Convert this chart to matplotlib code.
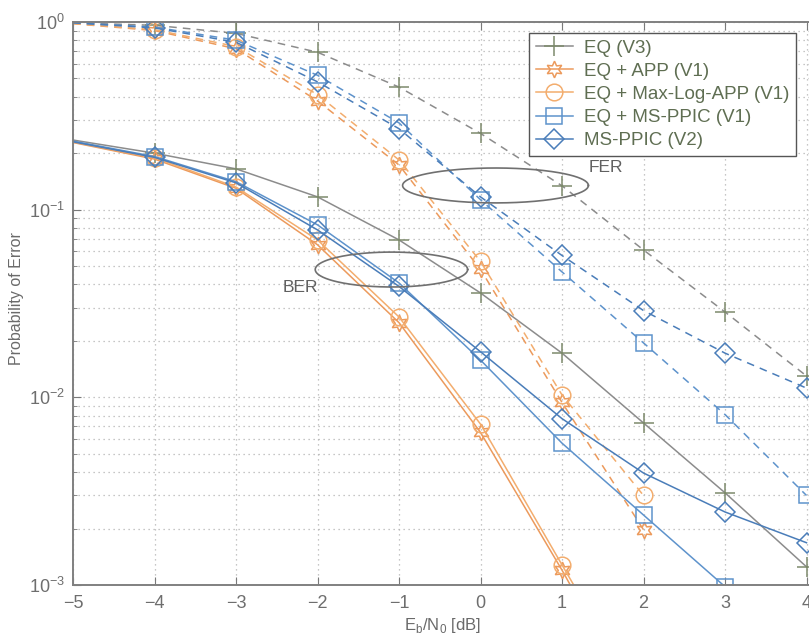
import numpy as np
import matplotlib
matplotlib.use("Agg")
from matplotlib import pyplot as plt
from matplotlib.ticker import LogLocator, NullFormatter

plt.rcParams['font.family'] = ['Liberation Sans', 'DejaVu Sans']

# Eb/N0 in dB
snr = [-5, -4, -3, -2, -1, 0, 1, 2, 3, 4]

# bit error rate (solid curves)
eq_v3_ber = [0.235, 0.200, 0.165, 0.117, 0.069, 0.036, 0.0172, 0.0073, 0.0031, 0.00125]
app_ber = [0.228, 0.186, 0.130, 0.065, 0.025, 0.0065, 0.00120, 0.00020]
maxlog_ber = [0.229, 0.189, 0.132, 0.069, 0.0268, 0.0072, 0.00128, 0.00023]
msppic_v1_ber = [0.232, 0.192, 0.141, 0.083, 0.0407, 0.0158, 0.0057, 0.00236, 0.00098, 0.0004]
msppic_v2_ber = [0.230, 0.190, 0.139, 0.078, 0.039, 0.0175, 0.0077, 0.00395, 0.00245, 0.00168]

# frame error rate (dashed curves)
eq_v3_fer = [0.99, 0.96, 0.87, 0.69, 0.45, 0.255, 0.134, 0.061, 0.0285, 0.013]
app_fer = [0.98, 0.90, 0.72, 0.38, 0.173, 0.048, 0.0094, 0.00197]
maxlog_fer = [0.98, 0.91, 0.74, 0.41, 0.184, 0.053, 0.0103, 0.0030]
msppic_v1_fer = [0.99, 0.94, 0.80, 0.52, 0.29, 0.113, 0.0466, 0.0195, 0.0081, 0.0030]
msppic_v2_fer = [0.99, 0.93, 0.78, 0.48, 0.27, 0.117, 0.057, 0.029, 0.0172, 0.0112]

labels = ['EQ (V3)', 'EQ + APP (V1)', 'EQ + Max-Log-APP (V1)',
          'EQ + MS-PPIC (V1)', 'MS-PPIC (V2)']
colors = ['#8c8c8c', '#ec9a5c', '#f3ad6e', '#5e93cc', '#4a7db9']
markers = ['+', (6, 1, 0), 'o', 's', 'D']
msizes = [15, 12, 12, 11, 10]

ber = [eq_v3_ber, app_ber, maxlog_ber, msppic_v1_ber, msppic_v2_ber]
fer = [eq_v3_fer, app_fer, maxlog_fer, msppic_v1_fer, msppic_v2_fer]

fig = plt.figure(figsize=(8.09, 6.43), dpi=100)
# axes runs to 5 dB, the right part falls outside the figure
ax = fig.add_axes([73 / 809, 1 - 585 / 643, 815 / 809, 563 / 643])

for i in range(5):
    mcol = '#7d8a6c' if i == 0 else colors[i]
    ax.plot(snr[:len(ber[i])], ber[i], color=colors[i], lw=1.1,
            marker=markers[i], ms=msizes[i], mfc='none', mec=mcol, mew=1.1,
            markevery=list(range(1, len(ber[i]))), label=labels[i])
    ax.plot(snr[:len(fer[i])], fer[i], color=colors[i], lw=1.1, ls=(0, (5, 4)),
            marker=markers[i], ms=msizes[i], mfc='none', mec=mcol, mew=1.1,
            markevery=list(range(1, len(fer[i]))))

# ellipses grouping the FER and BER curves
t = np.linspace(0, 2 * np.pi, 300)
for cx, cy, a, b in [(0.184, -0.871, 1.14, 0.093), (-1.093, -1.319, 0.935, 0.093)]:
    ax.plot(cx + a * np.cos(t), 10 ** (cy + b * np.sin(t)), color='#707070', lw=1.2)
ax.text(1.33, 0.167, 'FER', fontsize=12.5, color='#606060', va='center')
ax.text(-2.43, 0.0383, 'BER', fontsize=12.5, color='#606060', va='center')

ax.set_yscale('log')
ax.set_xlim(-5, 5)
ax.set_ylim(1e-3, 1)
ax.set_xticks(range(-5, 6))
ax.yaxis.set_major_locator(LogLocator(base=10, numticks=10))
ax.yaxis.set_minor_locator(LogLocator(base=10, subs=np.arange(2, 10), numticks=20))
ax.yaxis.set_minor_formatter(NullFormatter())
ax.grid(True, which='major', color='#b4b4b4', ls=(0, (1, 3)), lw=0.9)
ax.grid(True, which='minor', axis='y', color='#b4b4b4', ls=(0, (1, 3)), lw=0.9)
ax.tick_params(which='both', direction='in', top=True, right=True,
               colors='#7a7a7a', labelcolor='#6e6e6e', labelsize=13)
ax.tick_params(which='major', length=6)
ax.tick_params(which='minor', length=3)
ax.tick_params(axis='x', pad=7)
ax.tick_params(axis='y', pad=6)
for s in ax.spines.values():
    s.set_color('#808080')
    s.set_linewidth(1.4)

ax.set_xlabel(r'E$_\mathregular{b}$/N$_\mathregular{0}$ [dB]', fontsize=12, color='#6a6a6a')
ax.xaxis.set_label_coords(0.453, -0.055)
ax.set_ylabel('Probability of Error', fontsize=11.5, color='#6a6a6a')
ax.yaxis.set_label_coords(-0.06, 0.508)

leg = ax.legend(loc='upper left', bbox_to_anchor=(529 / 809, 1 - 33 / 643),
                bbox_transform=fig.transFigure, borderaxespad=0, fontsize=13.5,
                fancybox=False, framealpha=1, edgecolor='#555555',
                labelspacing=0.32, handlelength=2.0, handletextpad=0.6, borderpad=0.35)
leg.get_frame().set_linewidth(1.0)
for txt in leg.get_texts():
    txt.set_color('#5f6e52')

fig.savefig('out.png', dpi=100)
